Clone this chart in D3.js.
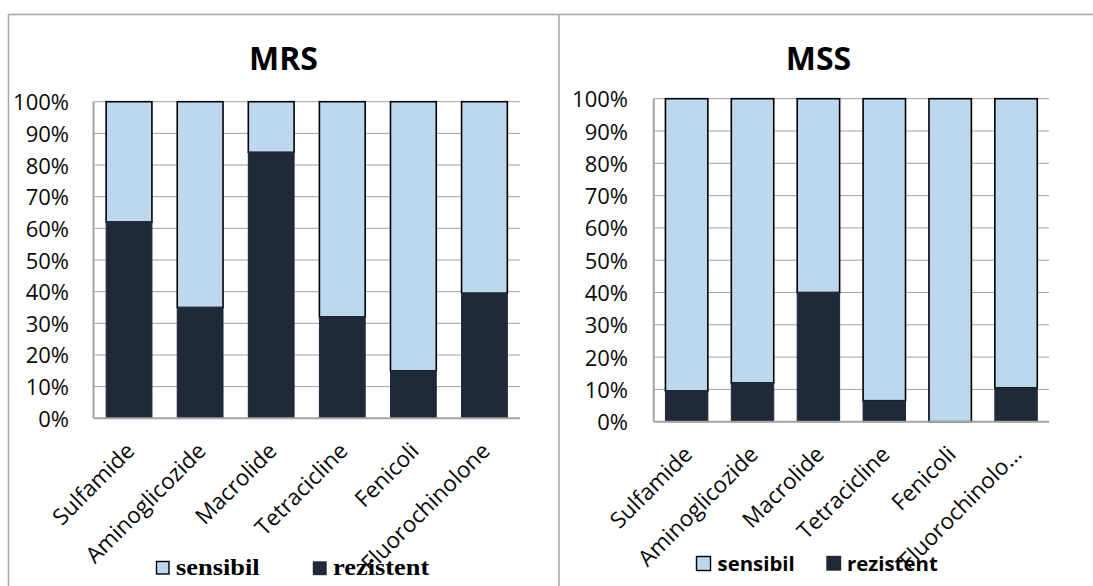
<!DOCTYPE html>
<html>
<head>
<meta charset="utf-8">
<script src="https://cdn.jsdelivr.net/npm/d3@7"></script>
<style>
  body { margin: 0; background: #fff; }
  svg { display: block; }
</style>
</head>
<body>
<svg id="chart" width="1093" height="586"></svg>
<script>
// Antibiotic classes (x axis)
const categories = ["Sulfamide", "Aminoglicozide", "Macrolide", "Tetracicline", "Fenicoli", "Fluorochinolone"];
const mrsLabels = ["Sulfamide", "Aminoglicozide", "Macrolide", "Tetracicline", "Fenicoli", "Fluorochinolone"];
const mssLabels = ["Sulfamide", "Aminoglicozide", "Macrolide", "Tetracicline", "Fenicoli", "Fluorochinolo…"];

// Percent of strains per class
const mrsRezistent = [62, 35, 84, 32, 15, 39.5];
const mrsSensibil  = [38, 65, 16, 68, 85, 60.5];
const mssRezistent = [9.5, 12, 40, 6.5, 0, 10.5];
const mssSensibil  = [90.5, 88, 60, 93.5, 100, 89.5];

const yTicks = [0, 10, 20, 30, 40, 50, 60, 70, 80, 90, 100];
const seriesNames = ["sensibil", "rezistent"];

const colSens = "#bdd7ee";
const colRez = "#1f2937";
const gridCol = "#a3a3a3";
const sansFont = "'Open Sans', sans-serif";

const svg = d3.select("#chart");

// Frame lines around the two panels
const frame = svg.append("g").attr("stroke", "#a8a8a8").attr("stroke-width", 1.5);
frame.append("line").attr("x1", 8).attr("x2", 1093).attr("y1", 14.5).attr("y2", 14.5);
frame.append("line").attr("x1", 8.5).attr("x2", 8.5).attr("y1", 14).attr("y2", 586);
frame.append("line").attr("x1", 559).attr("x2", 559).attr("y1", 14).attr("y2", 586);

function drawPanel(cfg) {
  const g = svg.append("g");

  const x = d3.scaleBand().domain(categories)
    .range([cfg.left, cfg.right]).paddingInner(0.356).paddingOuter(0.178);
  const y = d3.scaleLinear().domain([0, 100]).range([cfg.bottom, cfg.top]);

  // Horizontal gridlines
  g.append("g").selectAll("line").data(yTicks.filter(t => t > 0)).join("line")
    .attr("x1", cfg.left).attr("x2", cfg.right)
    .attr("y1", d => y(d)).attr("y2", d => y(d))
    .attr("stroke", gridCol).attr("stroke-width", 1);

  // Value axis line
  g.append("line").attr("x1", cfg.left).attr("x2", cfg.left)
    .attr("y1", y(100)).attr("y2", y(0))
    .attr("stroke", gridCol).attr("stroke-width", 2);

  // Tick labels
  g.append("g").selectAll("text").data(yTicks).join("text")
    .attr("x", cfg.tickRight).attr("y", d => y(d) + 8.5)
    .attr("text-anchor", "end")
    .attr("font-family", sansFont).attr("font-size", 22).attr("fill", "#0a0a0a")
    .text(d => d + "%");

  // Stacked bars: rezistent at the base, sensibil above
  const rows = categories.map((c, i) => ({ c, rez: cfg.rez[i], sens: cfg.sens[i] }));
  const bars = g.append("g");
  bars.selectAll("rect.sens").data(rows).join("rect")
    .attr("class", "sens")
    .attr("x", d => x(d.c)).attr("width", x.bandwidth())
    .attr("y", d => y(d.rez + d.sens)).attr("height", d => y(d.rez) - y(d.rez + d.sens))
    .attr("fill", colSens).attr("stroke", "#000").attr("stroke-width", 1.6);
  bars.selectAll("rect.rez").data(rows.filter(d => d.rez > 0)).join("rect")
    .attr("class", "rez")
    .attr("x", d => x(d.c)).attr("width", x.bandwidth())
    .attr("y", d => y(d.rez)).attr("height", d => y(0) - y(d.rez))
    .attr("fill", colRez).attr("stroke", colRez).attr("stroke-width", 1);

  // Category axis line
  g.append("line").attr("x1", cfg.left).attr("x2", cfg.right)
    .attr("y1", y(0)).attr("y2", y(0))
    .attr("stroke", gridCol).attr("stroke-width", 2);

  // Rotated category labels
  g.append("g").selectAll("text").data(categories).join("text")
    .attr("transform", (d) => {
      const cx = x(d) + x.bandwidth() / 2;
      return `translate(${cx + 7},${y(0) + 34}) rotate(-45)`;
    })
    .attr("text-anchor", "end")
    .attr("font-family", sansFont).attr("font-size", 22.5).attr("fill", "#0a0a0a")
    .text((d, i) => cfg.labels[i]);

  // Title
  g.append("text")
    .attr("x", cfg.titleX).attr("y", 70)
    .attr("text-anchor", "middle")
    .attr("font-family", sansFont).attr("font-weight", 700).attr("font-size", 32)
    .attr("fill", "#000").text(cfg.title);

  // Legend
  const lg = g.append("g");
  cfg.legend.forEach((item, i) => {
    lg.append("rect")
      .attr("x", item.sx).attr("y", item.sy).attr("width", item.size).attr("height", item.size)
      .attr("fill", i === 0 ? colSens : colRez)
      .attr("stroke", i === 0 ? "#000" : colRez).attr("stroke-width", 1.4);
    lg.append("text")
      .attr("transform", `translate(${item.tx},${item.ty}) scale(${cfg.legendScale},1)`)
      .attr("font-family", cfg.legendFont).attr("font-weight", 700)
      .attr("font-size", cfg.legendSize).attr("fill", "#000")
      .text(seriesNames[i]);
  });
}

drawPanel({
  title: "MRS", titleX: 283.5,
  left: 93.5, right: 520, top: 101.7, bottom: 418.3, tickRight: 69,
  rez: mrsRezistent, sens: mrsSensibil, labels: mrsLabels,
  legendFont: "'Liberation Serif', 'Times New Roman', serif", legendSize: 24, legendScale: 1.1,
  legend: [
    { sx: 156.5, sy: 561.5, size: 12.5, tx: 176, ty: 575 },
    { sx: 313.5, sy: 562, size: 12.5, tx: 333, ty: 575 }
  ]
});

drawPanel({
  title: "MSS", titleX: 818.5,
  left: 653.7, right: 1049, top: 98.7, bottom: 421.7, tickRight: 628,
  rez: mssRezistent, sens: mssSensibil, labels: mssLabels,
  legendFont: sansFont, legendSize: 20.4, legendScale: 1,
  legend: [
    { sx: 696.5, sy: 556.5, size: 14, tx: 717.5, ty: 570.7 },
    { sx: 827, sy: 556.5, size: 13.5, tx: 847, ty: 570.7 }
  ]
});
</script>
</body>
</html>
